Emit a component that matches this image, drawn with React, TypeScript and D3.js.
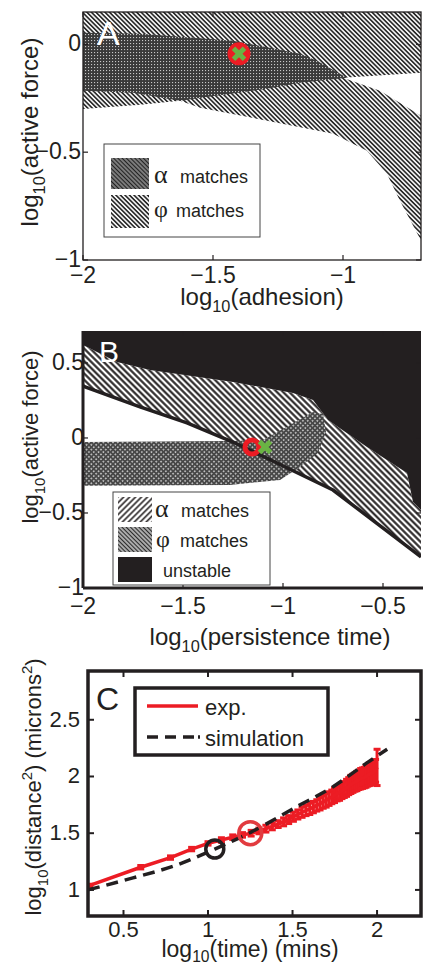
import React from 'react';
import * as d3 from 'd3';

const W = 423;
const H = 969;
const INK = '#231f20';
const RED = '#ec1c24';
const GREEN = '#6ab344';
const SANS = '"Liberation Sans", Arial, Helvetica, sans-serif';
const SERIF = '"Liberation Serif", "Times New Roman", serif';

// ---- panel A : log10(adhesion) vs log10(active force)
const aTicksX = [-2, -1.5, -1];
const aTicksY = [-1, -0.5, 0];
const aPhiRegion: [number, number][] = [
  [-2, 0.15], [-0.7, 0.15], [-0.7, -0.132], [-1.0, -0.155], [-0.858, -0.215],
  [-0.7, -0.331], [-0.7, -0.91], [-0.781, -0.725], [-0.831, -0.6], [-0.908, -0.493],
  [-1.038, -0.414], [-1.292, -0.354], [-1.55, -0.294], [-1.627, -0.261], [-1.78, -0.28],
  [-2, -0.3],
];
const aAlphaRegion: [number, number][] = [
  [-2, 0.054], [-1.781, 0.049], [-1.423, 0.017], [-1.165, -0.044], [-1.1, -0.076],
  [-0.985, -0.155], [-1.165, -0.178], [-1.292, -0.206], [-1.627, -0.261], [-1.808, -0.224],
  [-2, -0.215],
];
const aMarker = [-1.4, -0.044];

// ---- panel B : log10(persistence time) vs log10(active force)
const bTicksX = [-2, -1.5, -1, -0.5];
const bTicksY = [-1, -0.5, 0, 0.5];
const bUnstable: [number, number][] = [
  [-2, 0.72], [-0.31, 0.72], [-0.31, -0.48], [-0.35, -0.427], [-0.38, -0.233],
  [-0.58, -0.06], [-0.775, 0.12], [-0.85, 0.253], [-0.95, 0.3], [-1.25, 0.373],
  [-1.665, 0.453], [-1.83, 0.507], [-2, 0.62],
];
const bAlphaRegion: [number, number][] = [
  [-2, 0.62], [-1.83, 0.507], [-1.665, 0.453], [-1.25, 0.373], [-0.95, 0.3],
  [-0.85, 0.253], [-0.775, 0.12], [-0.58, -0.06], [-0.38, -0.233], [-0.35, -0.427],
  [-0.31, -0.48], [-0.31, -0.793], [-0.75, -0.347], [-1.03, -0.167], [-1.25, -0.027],
  [-1.48, 0.1], [-1.715, 0.207], [-2, 0.345],
];
const bStableLine: [number, number][] = [
  [-2, 0.345], [-1.715, 0.207], [-1.48, 0.1], [-1.25, -0.027], [-1.03, -0.167],
  [-0.75, -0.347], [-0.31, -0.793],
];
const bPhiRegion: [number, number][] = [
  [-2, -0.027], [-1.265, -0.02], [-1.1, -0.013], [-0.965, 0.087], [-0.85, 0.173],
  [-0.8, 0.16], [-0.785, 0.04], [-0.825, -0.1], [-0.915, -0.193], [-1.015, -0.28],
  [-1.265, -0.313], [-2, -0.318],
];
const bRing = [-1.155, -0.06];
const bCross = [-1.09, -0.06];

// ---- panel C : mean squared displacement
const cTicksX = [0.5, 1, 1.5, 2];
const cTicksY = [1, 1.5, 2, 2.5];
const expTime = [
  2, 4, 6, 8, 10, 12, 14, 16, 18, 20, 22, 24, 26, 28, 30, 32, 34, 36, 38, 40,
  42, 44, 46, 48, 50, 52, 54, 56, 58, 60, 62, 64, 66, 68, 70, 72, 74, 76, 78, 80,
  82, 84, 86, 88, 90, 92, 94, 96, 98, 100,
];
const expMean = [
  1.04, 1.2, 1.285, 1.36, 1.41, 1.44, 1.465, 1.485, 1.5, 1.52,
  1.54, 1.56, 1.58, 1.6, 1.62, 1.645, 1.665, 1.685, 1.7, 1.715,
  1.73, 1.745, 1.76, 1.775, 1.79, 1.805, 1.82, 1.835, 1.85, 1.86,
  1.875, 1.885, 1.9, 1.915, 1.93, 1.94, 1.95, 1.96, 1.97, 1.98,
  1.985, 1.99, 2.0, 2.01, 2.02, 2.025, 2.03, 2.04, 2.05, 2.08,
];
const expErr = [
  0.01, 0.015, 0.015, 0.015, 0.015, 0.02, 0.02, 0.02, 0.025, 0.025,
  0.03, 0.03, 0.03, 0.035, 0.035, 0.04, 0.04, 0.045, 0.045, 0.05,
  0.05, 0.05, 0.055, 0.055, 0.06, 0.06, 0.06, 0.065, 0.065, 0.07,
  0.07, 0.07, 0.075, 0.075, 0.08, 0.08, 0.08, 0.085, 0.085, 0.09,
  0.09, 0.09, 0.095, 0.095, 0.1, 0.1, 0.1, 0.1, 0.1, 0.16,
];
const simLogTime = [0.29, 0.556, 0.816, 1.04, 1.255, 1.545, 1.74, 1.94, 2.06];
const simLogDist = [1.0, 1.106, 1.22, 1.36, 1.51, 1.75, 1.91, 2.12, 2.24];
const cBlackCircle = [1.04, 1.36];
const cRedCircle = [1.25, 1.5];

const fmt = (v: number) => String(v).replace('-', '\u2212');

const A = { l: 83, r: 421, t: 12, b: 260 };
const B = { l: 83, r: 421, t: 331, b: 588 };
const C = { l: 88, r: 421, t: 671, b: 916 };

const ax = d3.scaleLinear().domain([-2, -0.7]).range([A.l, A.r]);
const ay = d3.scaleLinear().domain([-1, 0.15]).range([A.b, A.t]);
const bx = d3.scaleLinear().domain([-2, -0.31]).range([B.l, B.r]);
const by = d3.scaleLinear().domain([-1, 0.713]).range([B.b, B.t]);
const cx = d3.scaleLinear().domain([0.29, 2.26]).range([C.l, C.r]);
const cy = d3.scaleLinear().domain([0.77, 2.93]).range([C.b, C.t]);

const poly = (sx: any, sy: any, pts: [number, number][]) =>
  (d3.line<[number, number]>().x((d) => sx(d[0])).y((d) => sy(d[1]))(pts) || '') + 'Z';

function Ticks({ sx, sy, box, tx, ty, len = 5, w = 1.2 }: any) {
  return (
    <g stroke={INK} strokeWidth={w}>
      {tx.map((t: number) => (
        <g key={'x' + t}>
          <line x1={sx(t)} x2={sx(t)} y1={box.b} y2={box.b - len} />
          <line x1={sx(t)} x2={sx(t)} y1={box.t} y2={box.t + len} />
        </g>
      ))}
      {ty.map((t: number) => (
        <g key={'y' + t}>
          <line x1={box.l} x2={box.l + len} y1={sy(t)} y2={sy(t)} />
          <line x1={box.r} x2={box.r - len} y1={sy(t)} y2={sy(t)} />
        </g>
      ))}
    </g>
  );
}

function TickLabels({ sx, sy, tx, ty, xBase, yRight, size }: any) {
  return (
    <g fontFamily={SANS} fontSize={size} fill={INK}>
      {tx.map((t: number) => (
        <text key={'x' + t} x={sx(t)} y={xBase} textAnchor="middle">{fmt(t)}</text>
      ))}
      {ty.map((t: number) => (
        <text key={'y' + t} x={yRight} y={sy(t) + 1} textAnchor="end" dominantBaseline="middle">{fmt(t)}</text>
      ))}
    </g>
  );
}

function Cross({ x, y, s = 5, w = 4.5 }: any) {
  return (
    <g stroke={GREEN} strokeWidth={w}>
      <line x1={x - s} y1={y - s} x2={x + s} y2={y + s} />
      <line x1={x - s} y1={y + s} x2={x + s} y2={y - s} />
    </g>
  );
}

function Log10Title({ x, y, rest, size, rotate = false, sub = 0.3 }: any) {
  const tr = rotate ? `translate(${x},${y}) rotate(-90)` : `translate(${x},${y})`;
  return (
    <text transform={tr} textAnchor="middle" fontFamily={SANS} fontSize={size} fill={INK}>
      <tspan>log</tspan>
      <tspan fontSize={size * 0.68} dy={size * sub}>10</tspan>
      <tspan dy={-size * sub}>{rest}</tspan>
    </text>
  );
}

export default function App() {
  const expLine = d3.line<number>()
    .x((_, i) => cx(Math.log10(expTime[i])))
    .y((d) => cy(d));
  const simLine = d3.line<number>()
    .x((d) => cx(d))
    .y((_, i) => cy(simLogDist[i]))
    .curve(d3.curveMonotoneX);
  const stableLine = d3.line<[number, number]>().x((d) => bx(d[0])).y((d) => by(d[1]));

  return (
    <div style={{ position: 'absolute', left: 0, top: 0, width: W, height: H, background: '#fff' }}>
      <svg width={W} height={H} viewBox={`0 0 ${W} ${H}`} style={{ display: 'block' }}>
        <defs>
          <pattern id="aPhi" width="3.2" height="3.2" patternUnits="userSpaceOnUse" patternTransform="rotate(-45)">
            <rect width="3.2" height="3.2" fill="#fff" />
            <line x1="1.6" y1="0" x2="1.6" y2="3.2" stroke="#2a2a2a" strokeWidth="1.7" />
          </pattern>
          <pattern id="aAlpha" width="3" height="3" patternUnits="userSpaceOnUse">
            <rect width="3" height="3" fill="#3a3a3a" />
            <rect x="1" y="1" width="1.1" height="1.1" fill="#c8c8c8" />
          </pattern>
          <pattern id="aAlphaSw" width="3" height="3" patternUnits="userSpaceOnUse" patternTransform="rotate(-45)">
            <rect width="3" height="3" fill="#fff" />
            <line x1="1.5" y1="0" x2="1.5" y2="3" stroke="#222" strokeWidth="2.2" />
          </pattern>
          <pattern id="bAlpha" width="4.4" height="4.4" patternUnits="userSpaceOnUse" patternTransform="rotate(-45)">
            <rect width="4.4" height="4.4" fill="#fff" />
            <line x1="2.2" y1="0" x2="2.2" y2="4.4" stroke={INK} strokeWidth="2.1" />
          </pattern>
          <pattern id="bAlphaSw" width="4.2" height="4.2" patternUnits="userSpaceOnUse" patternTransform="rotate(45)">
            <rect width="4.2" height="4.2" fill="#fff" />
            <line x1="2.1" y1="0" x2="2.1" y2="4.2" stroke={INK} strokeWidth="1.6" />
          </pattern>
          <pattern id="bPhi" width="3.4" height="3.4" patternUnits="userSpaceOnUse" patternTransform="rotate(45)">
            <rect width="3.4" height="3.4" fill="#474747" />
            <rect x="1" y="1" width="1.5" height="1.5" fill="#d6d6d6" />
          </pattern>
          <pattern id="bPhiSw" width="3" height="3" patternUnits="userSpaceOnUse" patternTransform="rotate(-45)">
            <rect width="3" height="3" fill="#fff" />
            <line x1="1.5" y1="0" x2="1.5" y2="3" stroke="#2a2a2a" strokeWidth="1.8" />
          </pattern>
          <clipPath id="clipA"><rect x={A.l} y={A.t} width={A.r - A.l} height={A.b - A.t} /></clipPath>
          <clipPath id="clipB"><rect x={B.l} y={B.t} width={B.r - B.l} height={B.b - B.t} /></clipPath>
          <clipPath id="clipC"><rect x={C.l} y={C.t} width={C.r - C.l} height={C.b - C.t} /></clipPath>
        </defs>

        {/* ---------- A ---------- */}
        <g clipPath="url(#clipA)">
          <path d={poly(ax, ay, aPhiRegion)} fill="url(#aPhi)" />
          <path d={poly(ax, ay, aAlphaRegion)} fill="url(#aAlpha)" />
          <circle cx={ax(aMarker[0])} cy={ay(aMarker[1])} r={11.5} fill={RED} />
          <Cross x={ax(aMarker[0])} y={ay(aMarker[1])} s={5.5} w={5} />
        </g>
        <rect x={A.l} y={A.t} width={A.r - A.l} height={A.b - A.t} fill="none" stroke={INK} strokeWidth={1.3} />
        <Ticks sx={ax} sy={ay} box={A} tx={aTicksX} ty={aTicksY} />
        <text x={97} y={45} fontFamily={SANS} fontSize={34} fill="#fff">A</text>
        <g>
          <rect x={104} y={144} width={156} height={93} fill="#fff" stroke="#444" strokeWidth={1} />
          <rect x={111} y={158} width={38} height={31} fill="url(#aAlphaSw)" />
          <rect x={111} y={195} width={38} height={33} fill="url(#aPhi)" />
          <text x={154} y={183} fontFamily={SERIF} fontSize={26} fill={INK}>α</text>
          <text x={180} y={183} fontFamily={SANS} fontSize={18} fill={INK}>matches</text>
          <text x={154} y={217} fontFamily={SERIF} fontSize={24} fill={INK}>φ</text>
          <text x={176} y={217} fontFamily={SANS} fontSize={18} fill={INK}>matches</text>
        </g>
        <TickLabels sx={ax} sy={ay} tx={aTicksX} ty={aTicksY} xBase={283} yRight={81} size={23} />
        <Log10Title x={262} y={305} rest="(adhesion)" size={24} />
        <Log10Title x={38} y={132} rest="(active force)" size={24} rotate />

        {/* ---------- B ---------- */}
        <g clipPath="url(#clipB)">
          <path d={poly(bx, by, bAlphaRegion)} fill="url(#bAlpha)" />
          <path d={poly(bx, by, bPhiRegion)} fill="url(#bPhi)" />
          <path d={poly(bx, by, bUnstable)} fill={INK} />
          <path d={stableLine(bStableLine) || ''} fill="none" stroke={INK} strokeWidth={3.5} />
          <circle cx={bx(bRing[0])} cy={by(bRing[1])} r={7} fill="none" stroke={RED} strokeWidth={5} />
          <Cross x={bx(bCross[0])} y={by(bCross[1])} s={5.5} w={5} />
        </g>
        <Ticks sx={bx} sy={by} box={B} tx={bTicksX} ty={bTicksY} />
        <line x1={B.l} x2={B.l} y1={B.t} y2={B.b} stroke={INK} strokeWidth={3} />
        <line x1={B.l} x2={B.r + 2} y1={B.b} y2={B.b} stroke={INK} strokeWidth={3} />
        <text x={99} y={362} fontFamily={SANS} fontSize={30} fill="#fff">B</text>
        <g>
          <rect x={113} y={492} width={157} height={93} fill="#fff" stroke="#444" strokeWidth={1} />
          <rect x={118} y={497} width={34} height={25} fill="url(#bAlphaSw)" />
          <rect x={118} y={527} width={34} height={25} fill="url(#bPhiSw)" />
          <rect x={118} y={557} width={34} height={25} fill={INK} />
          <text x={155} y={517} fontFamily={SERIF} fontSize={26} fill={INK}>α</text>
          <text x={181} y={517} fontFamily={SANS} fontSize={18} fill={INK}>matches</text>
          <text x={156} y={547} fontFamily={SERIF} fontSize={24} fill={INK}>φ</text>
          <text x={180} y={547} fontFamily={SANS} fontSize={18} fill={INK}>matches</text>
          <text x={163} y={577} fontFamily={SANS} fontSize={18} fill={INK}>unstable</text>
        </g>
        <TickLabels sx={bx} sy={by} tx={bTicksX} ty={bTicksY} xBase={614} yRight={84} size={23} />
        <Log10Title x={270} y={645} rest="(persistence time)" size={24} />
        <Log10Title x={38} y={437} rest="(active force)" size={22} rotate />

        {/* ---------- C ---------- */}
        <g clipPath="url(#clipC)">
          <g stroke={RED} strokeWidth={3}>
            {expMean.map((m, i) => {
              const x = cx(Math.log10(expTime[i]));
              return (
                <g key={i}>
                  <line x1={x} x2={x} y1={cy(m - expErr[i])} y2={cy(m + expErr[i])} />
                  <line x1={x - 3.5} x2={x + 3.5} y1={cy(m - expErr[i])} y2={cy(m - expErr[i])} />
                  <line x1={x - 3.5} x2={x + 3.5} y1={cy(m + expErr[i])} y2={cy(m + expErr[i])} />
                </g>
              );
            })}
          </g>
          <path d={expLine(expMean) || ''} fill="none" stroke={RED} strokeWidth={3.5} />
          <path d={simLine(simLogTime) || ''} fill="none" stroke={INK} strokeWidth={3.5} strokeDasharray="12 7" />
          <circle cx={cx(cBlackCircle[0])} cy={cy(cBlackCircle[1])} r={9} fill="none" stroke={INK} strokeWidth={3.5} />
          <circle cx={cx(cRedCircle[0])} cy={cy(cRedCircle[1])} r={11.5} fill="none" stroke="#e23b3f" strokeWidth={3.5} />
        </g>
        <Ticks sx={cx} sy={cy} box={C} tx={cTicksX} ty={cTicksY} len={6} w={2} />
        <rect x={C.l} y={C.t} width={C.r - C.l} height={C.b - C.t} fill="none" stroke={INK} strokeWidth={3.5} />
        <text x={96} y={710} fontFamily={SANS} fontSize={32} fill={INK}>C</text>
        <g>
          <rect x={135} y={688} width={193} height={67} fill="#fff" stroke={INK} strokeWidth={3.5} />
          <line x1={147} x2={198} y1={706} y2={706} stroke={RED} strokeWidth={3.5} />
          <line x1={147} x2={200} y1={737} y2={737} stroke={INK} strokeWidth={3.5} strokeDasharray="11 7 11 7 11 4 2 0" />
          <text x={205} y={715} fontFamily={SANS} fontSize={22} fill={INK}>exp.</text>
          <text x={205} y={746} fontFamily={SANS} fontSize={22} fill={INK}>simulation</text>
        </g>
        <TickLabels sx={cx} sy={cy} tx={cTicksX} ty={cTicksY} xBase={937} yRight={80} size={22} />
        <Log10Title x={250} y={957} rest="(time) (mins)" size={23} sub={0.22} />
        <text transform="translate(41,787) rotate(-90)" textAnchor="middle" fontFamily={SANS} fontSize={22} fill={INK}>
          <tspan>log</tspan>
          <tspan fontSize={15} dy={6.6}>10</tspan>
          <tspan dy={-6.6}>(distance</tspan>
          <tspan fontSize={15} dy={-9}>2</tspan>
          <tspan dy={9}>) (microns</tspan>
          <tspan fontSize={15} dy={-9}>2</tspan>
          <tspan dy={9}>)</tspan>
        </text>
      </svg>
    </div>
  );
}
